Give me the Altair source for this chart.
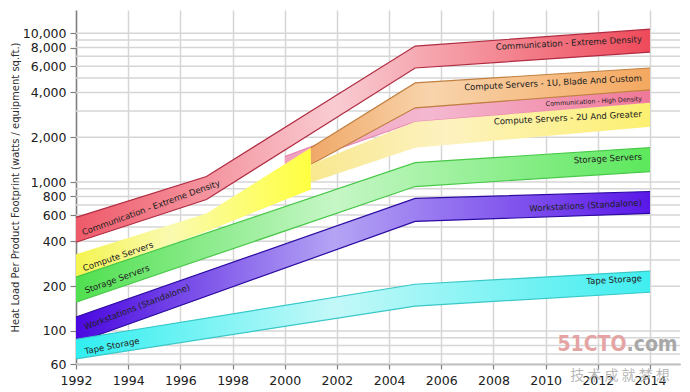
import altair as alt
import pandas as pd

# ---------------- data ----------------
x_ticks = [1992, 1994, 1996, 1998, 2000, 2002, 2004, 2006, 2008, 2010, 2012, 2014]
y_labels = [60, 100, 200, 400, 600, 800, 1000, 2000, 4000, 6000, 8000, 10000]
y_grid = [60, 70, 80, 90, 100, 200, 300, 400, 500, 600, 700, 800, 900,
          1000, 2000, 3000, 4000, 5000, 6000, 7000, 8000, 9000, 10000]

band_names = ["pink", "orange", "paleyellow", "yellow", "green", "purple", "cyan", "red"]

pink_years = [2000, 2005, 2014]
pink_lo = [1250, 2539, 3402]
pink_hi = [1481, 3150, 4157]

orange_years = [2001, 2005, 2014]
orange_lo = [1310, 3150, 4157]
orange_hi = [1701, 4630, 5834]

paleyellow_years = [2001, 2005, 2014]
paleyellow_lo = [993, 1701, 2350]
paleyellow_hi = [1310, 2539, 3402]

yellow_years = [1992, 1997, 2001]
yellow_lo = [223, 466, 891]
yellow_hi = [327, 615, 1701]

green_years = [1992, 2005, 2014]
green_lo = [156, 933, 1176]
green_hi = [230, 1350, 1701]

purple_years = [1992, 2005, 2014]
purple_lo = [83, 544, 616]
purple_hi = [124, 776, 864]

cyan_years = [1992, 2005, 2014]
cyan_lo = [65, 147, 182]
cyan_hi = [88, 206, 252]

red_years = [1992, 1997, 2005, 2014]
red_lo = [394, 764, 5834, 7463]
red_hi = [579, 1089, 8185, 10637]

band_data = {
    "pink": (pink_years, pink_lo, pink_hi),
    "orange": (orange_years, orange_lo, orange_hi),
    "paleyellow": (paleyellow_years, paleyellow_lo, paleyellow_hi),
    "yellow": (yellow_years, yellow_lo, yellow_hi),
    "green": (green_years, green_lo, green_hi),
    "purple": (purple_years, purple_lo, purple_hi),
    "cyan": (cyan_years, cyan_lo, cyan_hi),
    "red": (red_years, red_lo, red_hi),
}

left_label_text = ["Communication - Extreme Density", "Compute Servers", "Storage Servers",
                   "Workstations (Standalone)", "Tape Storage"]
left_label_year = [1994.87, 1993.61, 1993.57, 1994.34, 1993.38]
left_label_value = [675, 317, 223, 145, 79.4]
left_label_angle = [340, 341, 340, 339, 349]

right_label_text = ["Communication - Extreme Density", "Compute Servers - 1U, Blade And Custom",
                    "Communication - High Density", "Compute Servers - 2U And Greater",
                    "Storage Servers", "Workstations (Standalone)", "Tape Storage"]
right_label_year = [2013.69] * 7
right_label_value = [9120, 5000, 3618, 2873, 1481, 729, 226]
right_label_size = [8.5, 8.5, 6.3, 8.5, 8.5, 8.5, 8.5]

wm_text = ["51CTO", ".com"]
wm_year = [2013.1, 2013.1]
wm_value = [80.4, 80.4]
cn_text = ["技  术  成  就  梦  想"]
cn_year = [2012.85]
cn_value = [49.7]

# ---------------- styles ----------------
band_style = {
    "pink": (["#f0a0c0", "#f4b8d0", "#f07898"], 0.4, "#e888b0"),
    "orange": (["#f0a868", "#f8d4ac", "#f4a860"], 0.35, "#c08040"),
    "paleyellow": (["#f8e890", "#fdf2c0", "#fcf070"], 0.4, None),
    "yellow": (["#f4f450", "#fafab0", "#ffff40"], 0.4, None),
    "green": (["#50e050", "#c6f6c6", "#5ce85c"], 0.45, "#48c848"),
    "purple": (["#4a08e0", "#b4a4f4", "#5a18e8"], 0.45, "#2a0aa0"),
    "cyan": (["#30eef0", "#c4f8f8", "#40eef0"], 0.45, "#38c8c8"),
    "red": (["#ef5a6a", "#f9ccd2", "#ee4a5a"], 0.45, "#b02a40"),
}

FONT = "DejaVu Sans"
xscale = alt.Scale(domain=[1992, 2015.15], nice=False, zero=False)
yscale = alt.Scale(type="log", domain=[60, 14300], nice=False)

xaxis = alt.Axis(values=x_ticks, format="d", grid=True, gridColor="#d6d6d6", gridWidth=1.5,
                 domainColor="#808080", domainWidth=1.5, tickColor="#808080", tickWidth=1.2,
                 tickSize=5, labelFont=FONT, labelFontSize=12.5, labelColor="#202020",
                 labelPadding=5, labelFlush=False, labelOverlap=False, title=None)
YTITLE = "Heat Load Per Product Footprint (watts / equipment sq.ft.)"
yaxis = alt.Axis(values=y_labels, format=",", grid=False,
                 domainColor="#808080", domainWidth=1.5, tickColor="#808080", tickWidth=1.2,
                 tickSize=6, labelFont=FONT, labelFontSize=12.5, labelColor="#202020",
                 labelPadding=4, labelOverlap=False,
                 title=YTITLE, titleFont=FONT, titleFontSize=10, titleFontWeight="normal",
                 titleColor="#303030", titleX=-56, titleY=177, titleAngle=270,
                 titleAlign="center", titleBaseline="bottom")


def X(field):
    return alt.X(f"{field}:Q", scale=xscale, axis=xaxis, title=None)


def Y(field):
    return alt.Y(f"{field}:Q", scale=yscale, axis=yaxis, title=YTITLE)


layers = []

grid_df = pd.DataFrame({"value": y_grid})
layers.append(alt.Chart(grid_df).mark_rule(color="#d6d6d6", strokeWidth=1.5).encode(y=Y("value")))

for name in band_names:
    yrs, lo, hi = band_data[name]
    df = pd.DataFrame({"year": yrs, "lo": lo, "hi": hi})
    cols, mid, edge = band_style[name]
    grad = alt.Gradient(gradient="linear",
                        stops=[alt.GradientStop(color=cols[0], offset=0),
                               alt.GradientStop(color=cols[1], offset=mid),
                               alt.GradientStop(color=cols[2], offset=1)],
                        x1=0, x2=1, y1=0, y2=0)
    base = alt.Chart(df)
    layers.append(base.mark_area(color=grad, opacity=1).encode(
        x=X("year"), y=Y("hi"), y2=alt.Y2("lo")))
    if edge:
        layers.append(base.mark_line(color=edge, strokeWidth=1.2).encode(x=X("year"), y=Y("hi")))
        layers.append(base.mark_line(color=edge, strokeWidth=1.2).encode(x=X("year"), y=Y("lo")))

left_df = pd.DataFrame({"text": left_label_text, "year": left_label_year,
                        "value": left_label_value, "angle": left_label_angle})
layers.append(alt.Chart(left_df).mark_text(font=FONT, fontSize=8.5, color="#202020",
                                           align="center", baseline="middle").encode(
    x=X("year"), y=Y("value"), text="text:N", angle=alt.Angle("angle:Q", scale=None)))

right_df = pd.DataFrame({"text": right_label_text, "year": right_label_year,
                         "value": right_label_value, "size": right_label_size})
layers.append(alt.Chart(right_df).mark_text(font=FONT, color="#202020", angle=357,
                                            align="right", baseline="middle").encode(
    x=X("year"), y=Y("value"), text="text:N", size=alt.Size("size:Q", scale=None)))

wm_df = pd.DataFrame({"text": wm_text, "year": wm_year, "value": wm_value,
                      "align": ["right", "left"]})
WMFONT = "Liberation Sans Narrow, DejaVu Sans Condensed"
layers.append(alt.Chart(wm_df).transform_filter(alt.datum.align == "right").mark_text(
    font=WMFONT, fontWeight="bold", fontSize=21,
    color="#e4a4a4", align="right", baseline="middle").encode(
    x=X("year"), y=Y("value"), text="text:N"))
layers.append(alt.Chart(wm_df).transform_filter(alt.datum.align == "left").mark_text(
    font=WMFONT, fontWeight="bold", fontSize=21,
    color="#a8a8a8", align="left", baseline="middle").encode(
    x=X("year"), y=Y("value"), text="text:N"))

cn_df = pd.DataFrame({"text": cn_text, "year": cn_year, "value": cn_value})
layers.append(alt.Chart(cn_df).mark_text(font="Noto Sans CJK SC", fontSize=14, color="#b8b8b8",
                                         align="center", baseline="middle").encode(
    x=X("year"), y=Y("value"), text="text:N"))

chart = alt.layer(*layers).properties(
    width=604, height=354,
    autosize=alt.AutoSizeParams(type="none"),
    padding={"left": 68, "top": 2, "right": 2, "bottom": 22},
    background="white",
).configure_view(stroke=None)

chart.save("out.html", embed_options={"renderer": "svg", "actions": False})
